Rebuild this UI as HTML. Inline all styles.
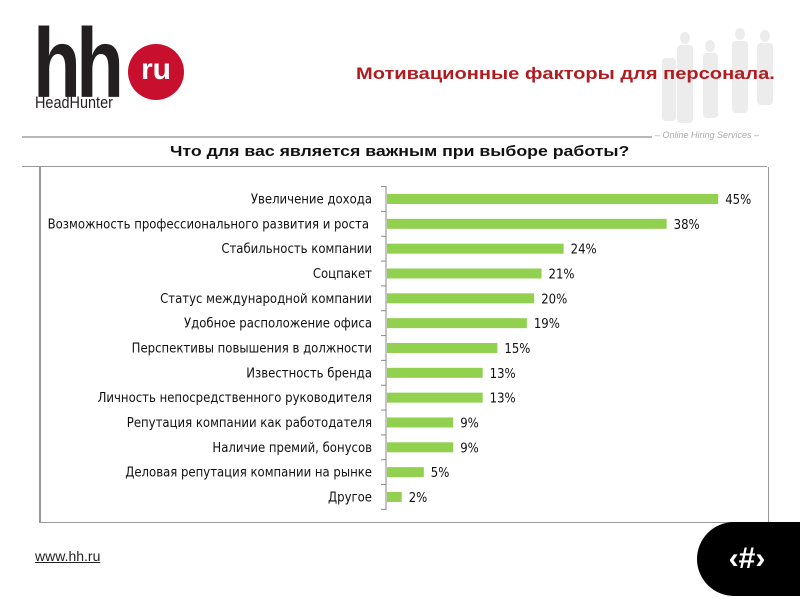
<!DOCTYPE html>
<html><head><meta charset="utf-8"><style>
body{margin:0;width:800px;height:600px;background:#fff;position:relative;overflow:hidden;font-family:"Liberation Sans","DejaVu Sans",sans-serif}
.abs{position:absolute}
</style></head><body>
<svg class="abs" style="left:650px;top:28px" width="140" height="95">
<g fill="#ececec"><ellipse cx="35" cy="10" rx="5" ry="6"/><rect x="27" y="17" width="16" height="78" rx="4"/><ellipse cx="60" cy="18" rx="5" ry="6"/><rect x="53" y="25" width="15" height="65" rx="4"/><ellipse cx="90" cy="6" rx="5" ry="6"/><rect x="82" y="13" width="16" height="72" rx="4"/><ellipse cx="115" cy="8" rx="5" ry="6"/><rect x="107" y="15" width="16" height="62" rx="4"/><rect x="12" y="30" width="14" height="63" rx="4"/></g></svg>
<div class="abs" style="left:33px;top:14px;font:bold 98px/1 'Liberation Sans',sans-serif;letter-spacing:-6px;color:#231f20;transform:scaleX(0.8);transform-origin:left top">hh</div>
<div class="abs" style="left:128px;top:44px;width:56px;height:56px;border-radius:50%;background:#c8102e;color:#fff;font:bold 30px/52px 'Liberation Sans',sans-serif;text-align:center">ru</div>
<div class="abs" style="left:35px;top:93px;font:17px 'Liberation Sans',sans-serif;color:#231f20;transform:scaleX(0.85);transform-origin:left top">HeadHunter</div>
<div class="abs" style="left:356px;top:64px;font:bold 17px 'Liberation Sans',sans-serif;color:#b01c20;transform:scaleX(1.18);transform-origin:left top;white-space:nowrap">Мотивационные факторы для персонала.</div>
<div class="abs" style="left:22px;top:136px;width:630px;height:2px;background:#b8b8b8"></div>
<div class="abs" style="left:655px;top:130px;font:italic 9px 'Liberation Sans',sans-serif;color:#aaa">– Online Hiring Services –</div>
<div class="abs" style="left:170px;top:143px;font:bold 15px 'Liberation Sans',sans-serif;color:#111;transform:scaleX(1.18);transform-origin:left top;white-space:nowrap">Что для вас является важным при выборе работы?</div>
<div class="abs" style="left:22px;top:166px;width:745px;height:1px;background:#999"></div>
<div class="abs" style="left:39px;top:167px;width:727px;height:355px;border:1px solid #999;border-top:none;border-left:2px solid #999"></div>
<svg id="chart" class="abs" style="left:0;top:0" width="800" height="600"></svg>
<div class="abs" style="left:35px;top:548px;font:14px 'Liberation Sans',sans-serif;color:#222;text-decoration:underline">www.hh.ru</div>
<div class="abs" style="left:697px;top:522px;width:110px;height:74px;border-radius:37px 0 0 37px;background:#000;color:#fff;font:bold 30px/74px 'Liberation Sans',sans-serif;text-align:center;padding-right:10px;box-sizing:border-box">‹#›</div>
<script>
const categories=["Увеличение дохода","Возможность профессионального развития и роста","Стабильность компании","Соцпакет","Статус международной компании","Удобное расположение офиса","Перспективы повышения в должности","Известность бренда","Личность непосредственного руководителя","Репутация компании как работодателя","Наличие премий, бонусов","Деловая репутация компании на рынке","Другое"];
const values=[45,38,24,21,20,19,15,13,13,9,9,5,2];
const valueLabels=["45%","38%","24%","21%","20%","19%","15%","13%","13%","9%","9%","5%","2%"];
const svg=document.getElementById('chart');
const NS='http://www.w3.org/2000/svg';
const x0=387,pxPer=7.36,y0=199,step=24.83,bh=10;
function xs(v){return x0+v*pxPer;}
function ys(i){return y0+i*step;}
function mk(t,a){const e=document.createElementNS(NS,t);for(const k in a)e.setAttribute(k,a[k]);svg.appendChild(e);return e;}
const ax=mk('line',{x1:386,x2:386,y1:186,y2:510,stroke:'#888','stroke-width':1});


for(let i=0;i<=categories.length;i++){const t=mk('line',{x1:381,x2:386,y1:ys(i)-step/2,y2:ys(i)-step/2,stroke:'#888'});

}
categories.forEach((c,i)=>{
const l=mk('text',{x:i==1?369:372,y:ys(i)+4.5,'text-anchor':'end','font-size':'13','font-family':'DejaVu Sans Condensed, DejaVu Sans, sans-serif',fill:'#111'});l.textContent=c;


const b=mk('rect',{x:x0,y:ys(i)-bh/2,width:xs(values[i])-x0,height:bh,fill:'#92d050'});


const v=mk('text',{x:xs(values[i])+7,y:ys(i)+5,'font-size':'13','font-family':'DejaVu Sans Condensed, DejaVu Sans, sans-serif',fill:'#111'});v.textContent=valueLabels[i];


});
</script>
</body></html>
